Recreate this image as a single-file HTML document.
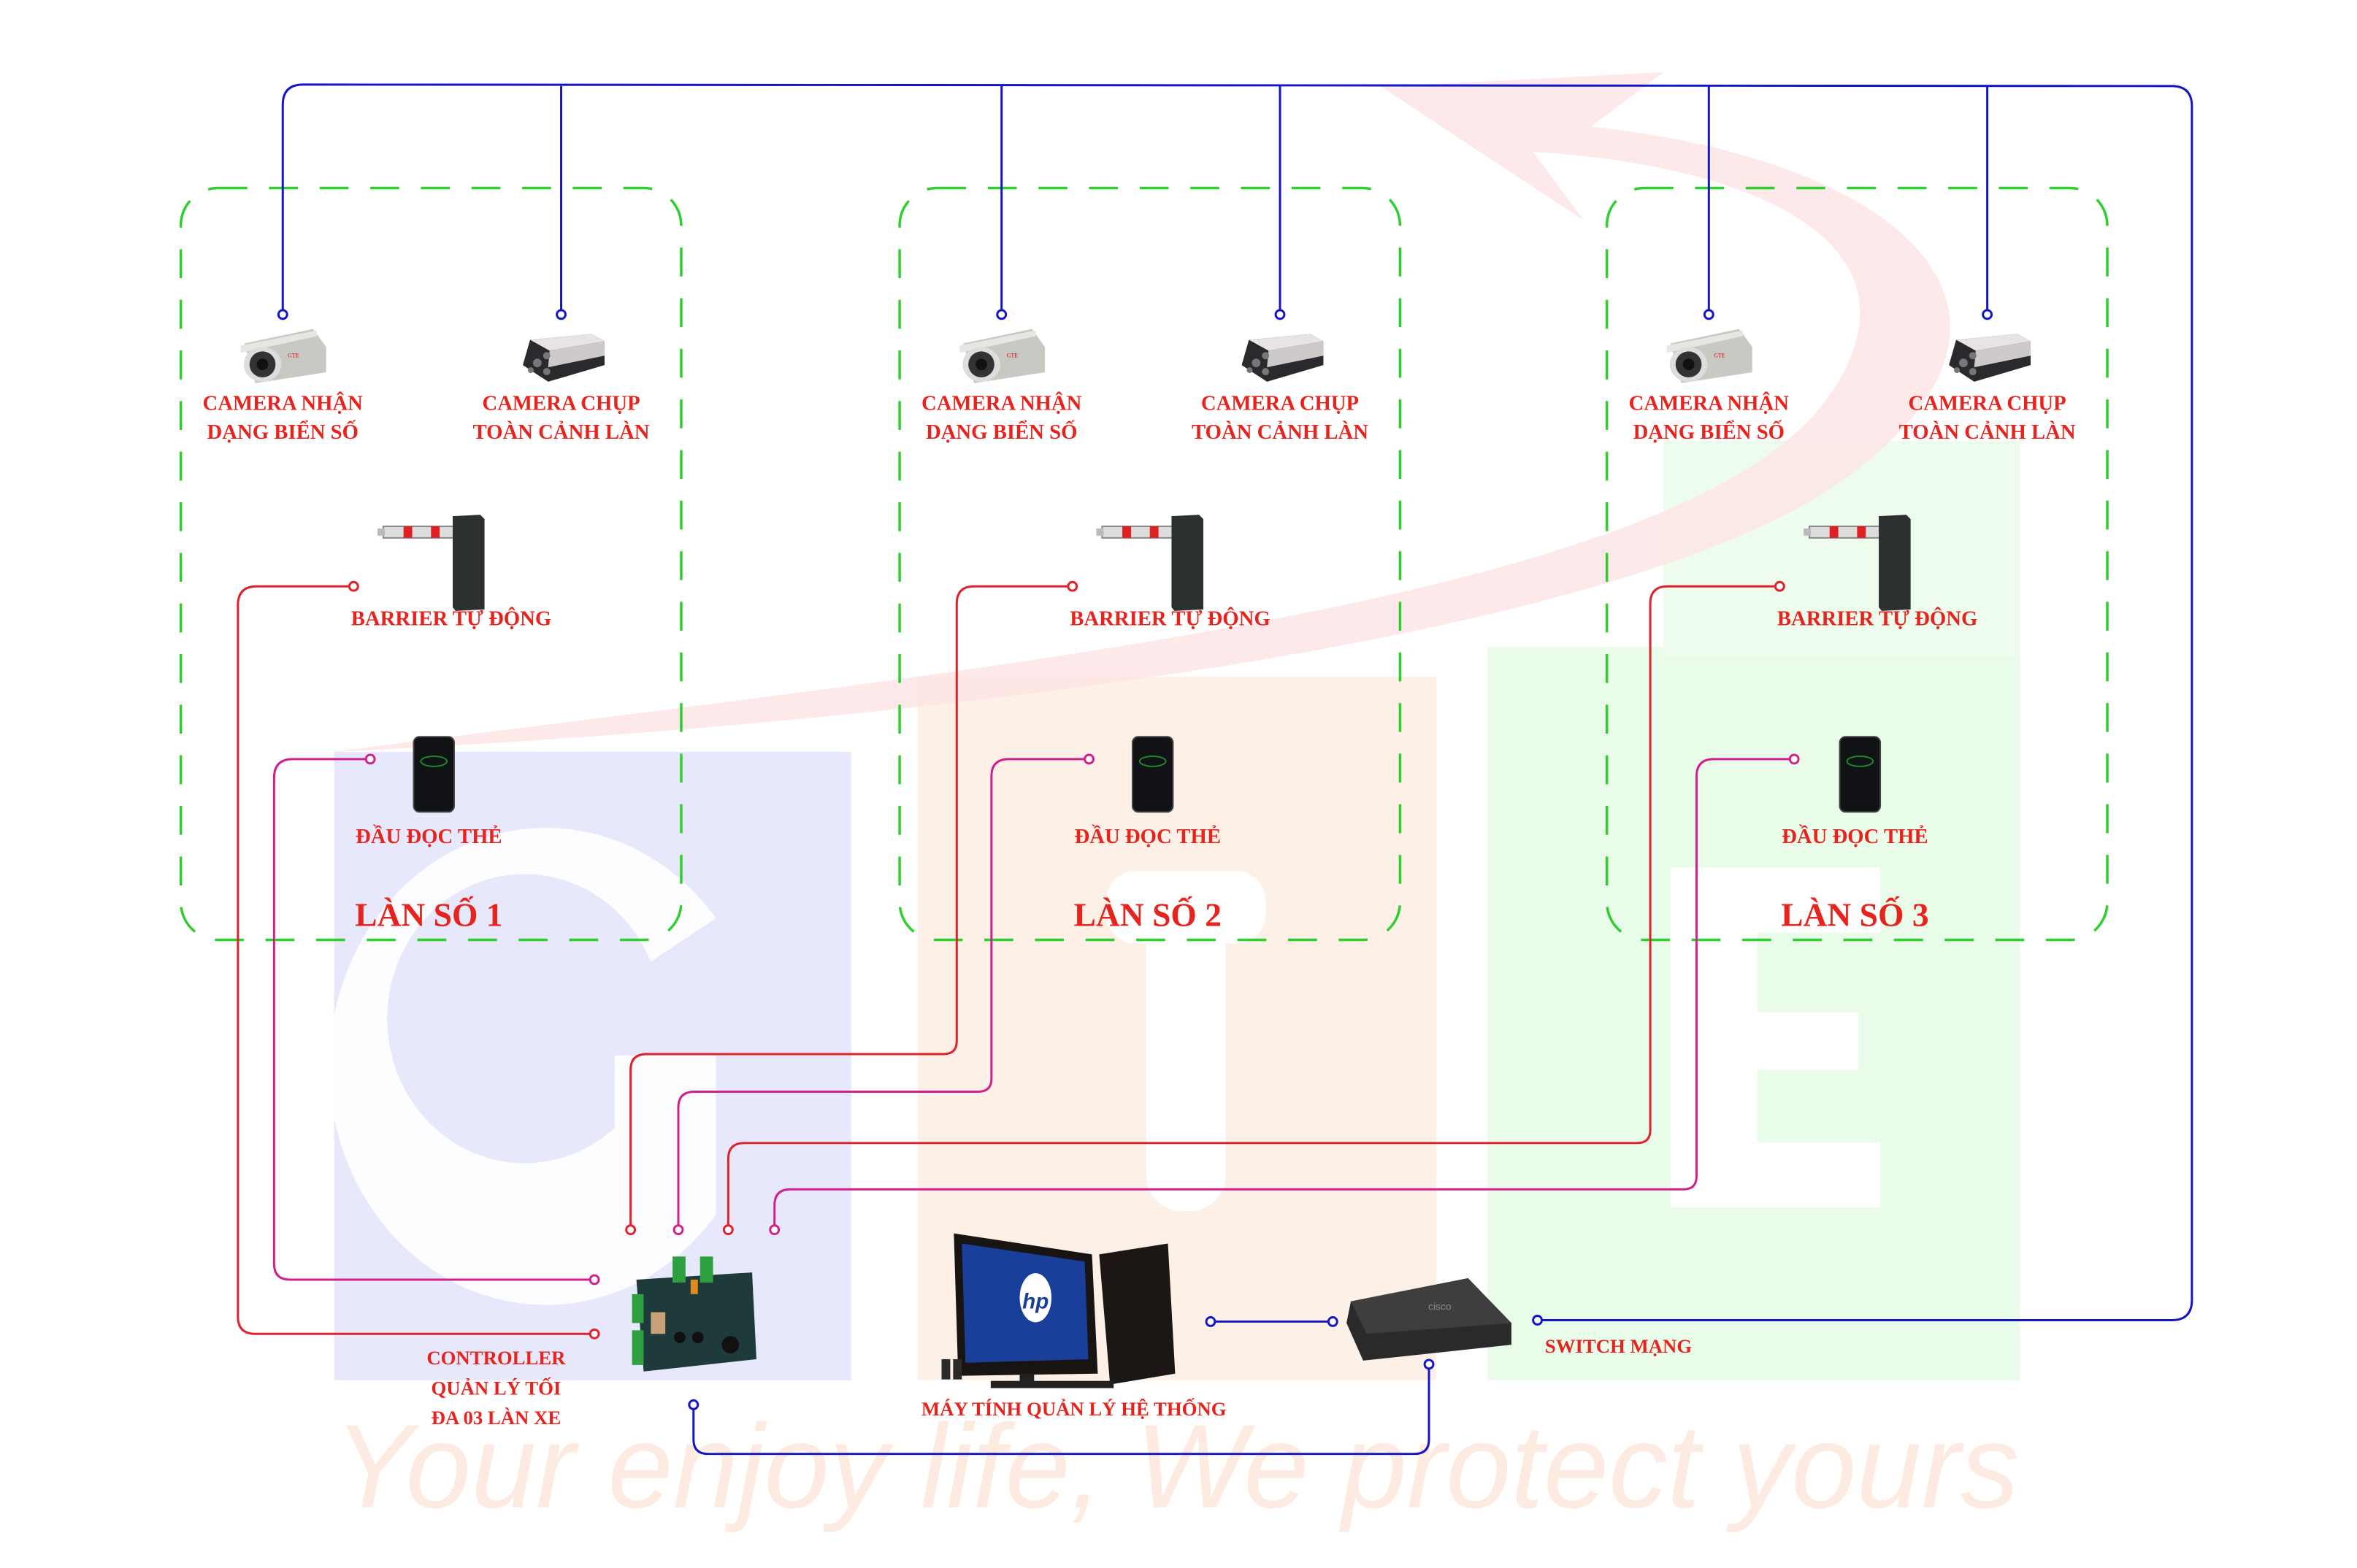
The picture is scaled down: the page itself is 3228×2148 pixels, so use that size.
<!DOCTYPE html>
<html><head><meta charset="utf-8"><style>html,body{margin:0;padding:0;background:#fff}svg{display:block}</style></head>
<body>
<svg width="3228" height="2148" viewBox="0 0 3228 2148" xmlns="http://www.w3.org/2000/svg" font-family="'Liberation Serif', 'DejaVu Serif', serif">
<defs>
<g id="cam1">
 <path d="M-55,-15 L40,-35 L58,-10 L58,25 L-40,40 Z" fill="#c9c9c4"/>
 <path d="M-60,-12 L45,-33 L45,-25 L-60,-2 Z" fill="#e6e6e2"/>
 <ellipse cx="-30" cy="14" rx="26" ry="24" fill="#ddd"/>
 <circle cx="-30" cy="14" r="18" fill="#333"/>
 <circle cx="-30" cy="14" r="8" fill="#111"/>
 <text x="5" y="4" font-size="8" fill="#c00">GTE</text>
</g>
<g id="cam2">
 <path d="M-45,-20 L40,-28 L58,-18 L58,15 L-20,38 L-55,15 Z" fill="#2a2a2e"/>
 <path d="M-45,-20 L40,-28 L58,-18 L-18,-5 Z" fill="#e8e4e4"/>
 <path d="M-18,-5 L58,-18 L58,2 L-20,18 Z" fill="#cfcaca"/>
 <circle cx="-35" cy="12" r="6" fill="#777"/><circle cx="-22" cy="2" r="5" fill="#777"/><circle cx="-22" cy="24" r="5" fill="#777"/><circle cx="-44" cy="22" r="4" fill="#777"/>
</g>
<g id="barrier">
 <rect x="0" y="0" width="100" height="16" fill="#ddd" stroke="#888" stroke-width="2"/>
 <rect x="28" y="0" width="12" height="16" fill="#e02020"/><rect x="66" y="0" width="12" height="16" fill="#e02020"/>
 <rect x="-8" y="3" width="10" height="10" fill="#bbb"/>
 <path d="M96,-14 L134,-16 L140,-10 L140,115 L100,117 L96,112 Z" fill="#2c3031"/>
</g>
<g id="reader">
 <rect x="0" y="0" width="56" height="104" rx="8" fill="#101216" stroke="#444" stroke-width="2"/>
 <ellipse cx="28" cy="34" rx="18" ry="7" fill="none" stroke="#1c8a2a" stroke-width="2"/>
</g>
<g id="lane">
 <rect x="250" y="260" width="692" height="1040" rx="52" fill="none" stroke="#2ccf2c" stroke-width="3.5" stroke-dasharray="40,30"/>
 <use href="#cam1" x="393" y="490"/>
 <use href="#cam2" x="778" y="490"/>
 <g fill="#e8231d" font-weight="bold" text-anchor="middle" font-size="29">
  <text x="391" y="567">CAMERA NHẬN</text>
  <text x="391" y="607">DẠNG BIỂN SỐ</text>
  <text x="776" y="567">CAMERA CHỤP</text>
  <text x="776" y="607">TOÀN CẢNH LÀN</text>
  <text x="624" y="865">BARRIER TỰ ĐỘNG</text>
  <text x="593" y="1166">ĐẦU ĐỌC THẺ</text>
 </g>
 <use href="#barrier" x="530" y="728"/>
 <use href="#reader" x="572" y="1019"/>
</g>
</defs>
<g transform="scale(0.9904)">
<rect x="462" y="1040" width="715" height="869" fill="#e7e8fb"/>
<rect x="1269" y="936" width="717" height="973" fill="#fdf0e6"/>
<rect x="2057" y="895" width="736" height="1014" fill="#e9fbe9"/>
<rect x="2300" y="610" width="493" height="300" fill="#eefcee"/>
<path d="M990,1270 A300,330 0 1 0 990,1680 L990,1460 L850,1460 L850,1560 A190,200 0 1 1 900,1330 Z" fill="#fff" opacity="0.9"/>
<rect x="1530" y="1205" width="220" height="100" rx="40" fill="#fff"/>
<rect x="1585" y="1205" width="110" height="470" rx="50" fill="#fff"/>
<path d="M2310,1200 L2600,1200 L2600,1290 L2430,1290 L2430,1400 L2570,1400 L2570,1480 L2430,1480 L2430,1580 L2600,1580 L2600,1670 L2310,1670 Z" fill="#fff"/>
<path d="M460,1040 C1300,930 2300,840 2520,560 C2680,350 2450,230 2120,210 L2190,305 L1910,120 L2300,100 L2200,175 C2620,220 2850,420 2580,640 C2300,880 1300,1000 460,1040 Z" fill="#fde4e3" opacity="0.8"/>
<text x="462" y="2085" textLength="2330" lengthAdjust="spacingAndGlyphs" font-family="'Liberation Sans', sans-serif" font-style="italic" font-size="165" fill="#fdebe1">Your enjoy life, We protect yours</text>

<use href="#lane"/>
<use href="#lane" x="994"/>
<use href="#lane" x="1972"/>
<g fill="#e8231d" font-weight="bold" text-anchor="middle" font-size="46">
 <text x="593" y="1281">LÀN SỐ 1</text>
 <text x="1587" y="1281">LÀN SỐ 2</text>
 <text x="2565" y="1281">LÀN SỐ 3</text>
</g>

<g fill="none" stroke="#1414c8" stroke-width="3">
 <path d="M391,435 L391,145 Q391,117 419,117 L3003,119 Q3031,119 3031,147 L3031,1798 Q3031,1826 3003,1826 L2126,1826"/>
 <path d="M776,119 V435 M1385,119 V435 M1770,119 V435 M2363,119 V435 M2748,119 V435"/>
 <path d="M1674,1828 H1843"/>
 <path d="M959,1943 L959,1991 Q959,2011 979,2011 L1956,2011 Q1976,2011 1976,1991 L1976,1887"/>
</g>
<g fill="#fff" stroke="#1414c8" stroke-width="3">
 <circle cx="391" cy="435" r="6"/><circle cx="776" cy="435" r="6"/>
 <circle cx="1385" cy="435" r="6"/><circle cx="1770" cy="435" r="6"/>
 <circle cx="2363" cy="435" r="6"/><circle cx="2748" cy="435" r="6"/>
 <circle cx="1674" cy="1828" r="6"/><circle cx="1843" cy="1828" r="6"/>
 <circle cx="2126" cy="1826" r="6"/><circle cx="959" cy="1943" r="6"/><circle cx="1976" cy="1887" r="6"/>
</g>

<g fill="none" stroke-width="3">
 <path stroke="#e0202a" d="M489,811 L355,811 Q329,811 329,837 L329,1821 Q329,1845 353,1845 L822,1845"/>
 <path stroke="#d0208f" d="M512,1050 L405,1050 Q379,1050 379,1076 L379,1748 Q379,1770 401,1770 L822,1770"/>
 <path stroke="#e0202a" d="M1483,811 L1347,811 Q1323,811 1323,835 L1323,1440 Q1323,1458 1305,1458 L894,1458 Q872,1458 872,1480 L872,1701"/>
 <path stroke="#d0208f" d="M1506,1050 L1395,1050 Q1371,1050 1371,1074 L1371,1492 Q1371,1510 1353,1510 L960,1510 Q938,1510 938,1532 L938,1701"/>
 <path stroke="#e0202a" d="M2461,811 L2306,811 Q2282,811 2282,835 L2282,1563 Q2282,1581 2264,1581 L1029,1581 Q1007,1581 1007,1603 L1007,1701"/>
 <path stroke="#d0208f" d="M2481,1050 L2370,1050 Q2346,1050 2346,1074 L2346,1627 Q2346,1645 2328,1645 L1093,1645 Q1071,1645 1071,1667 L1071,1701"/>
</g>
<g fill="#fff" stroke-width="3">
 <circle cx="489" cy="811" r="6" stroke="#e0202a"/><circle cx="512" cy="1050" r="6" stroke="#d0208f"/>
 <circle cx="1483" cy="811" r="6" stroke="#e0202a"/><circle cx="1506" cy="1050" r="6" stroke="#d0208f"/>
 <circle cx="2461" cy="811" r="6" stroke="#e0202a"/><circle cx="2481" cy="1050" r="6" stroke="#d0208f"/>
 <circle cx="822" cy="1845" r="6" stroke="#e0202a"/><circle cx="822" cy="1770" r="6" stroke="#d0208f"/>
 <circle cx="872" cy="1701" r="6" stroke="#e0202a"/><circle cx="938" cy="1701" r="6" stroke="#d0208f"/>
 <circle cx="1007" cy="1701" r="6" stroke="#e0202a"/><circle cx="1071" cy="1701" r="6" stroke="#d0208f"/>
</g>

<g>
 <path d="M880,1770 L1040,1760 L1046,1880 L890,1897 Z" fill="#1f3a3a"/>
 <rect x="930" y="1738" width="18" height="36" fill="#2fa040"/><rect x="968" y="1738" width="18" height="36" fill="#2fa040"/>
 <rect x="874" y="1790" width="16" height="40" fill="#2fa040"/><rect x="874" y="1840" width="16" height="48" fill="#2fa040"/>
 <rect x="955" y="1770" width="10" height="20" fill="#e08a20"/>
 <circle cx="940" cy="1850" r="8" fill="#111"/><circle cx="965" cy="1850" r="8" fill="#111"/><circle cx="1010" cy="1860" r="12" fill="#111"/>
 <rect x="900" y="1815" width="20" height="30" fill="#c9a27a"/>
</g>
<g>
 <path d="M1319,1706 L1510,1735 L1518,1900 L1325,1903 Z" fill="#181412"/>
 <path d="M1330,1720 L1500,1745 L1505,1880 L1335,1885 Z" fill="#1a3f9a"/>
 <ellipse cx="1432" cy="1795" rx="22" ry="34" fill="#fff"/>
 <text x="1432" y="1810" text-anchor="middle" font-family="'Liberation Sans',sans-serif" font-style="italic" font-weight="bold" font-size="30" fill="#1a3f9a">hp</text>
 <rect x="1410" y="1900" width="20" height="18" fill="#222"/>
 <path d="M1520,1735 L1615,1720 L1625,1900 L1535,1915 Z" fill="#1c1614"/>
 <rect x="1370" y="1910" width="170" height="10" fill="#222"/>
 <rect x="1302" y="1880" width="12" height="28" fill="#2a2a2a"/><rect x="1318" y="1880" width="12" height="28" fill="#2a2a2a"/>
</g>
<g>
 <path d="M1868,1800 L2030,1768 L2090,1830 L2090,1860 L1885,1882 L1862,1830 Z" fill="#2a2a2a"/>
 <path d="M1868,1800 L2030,1768 L2090,1830 L1890,1845 Z" fill="#3e3e3e"/>
 <text x="1975" y="1812" font-family="'Liberation Sans',sans-serif" font-size="14" fill="#888">cisco</text>
</g>

<g fill="#e8231d" font-weight="bold" font-size="27" text-anchor="middle">
 <text x="686" y="1887">CONTROLLER</text>
 <text x="686" y="1929">QUẢN LÝ TỐI</text>
 <text x="686" y="1970">ĐA 03 LÀN XE</text>
 <text x="1485" y="1958">MÁY TÍNH QUẢN LÝ HỆ THỐNG</text>
 <text x="2238" y="1871">SWITCH MẠNG</text>
</g>
</g>
</svg>
</body></html>
